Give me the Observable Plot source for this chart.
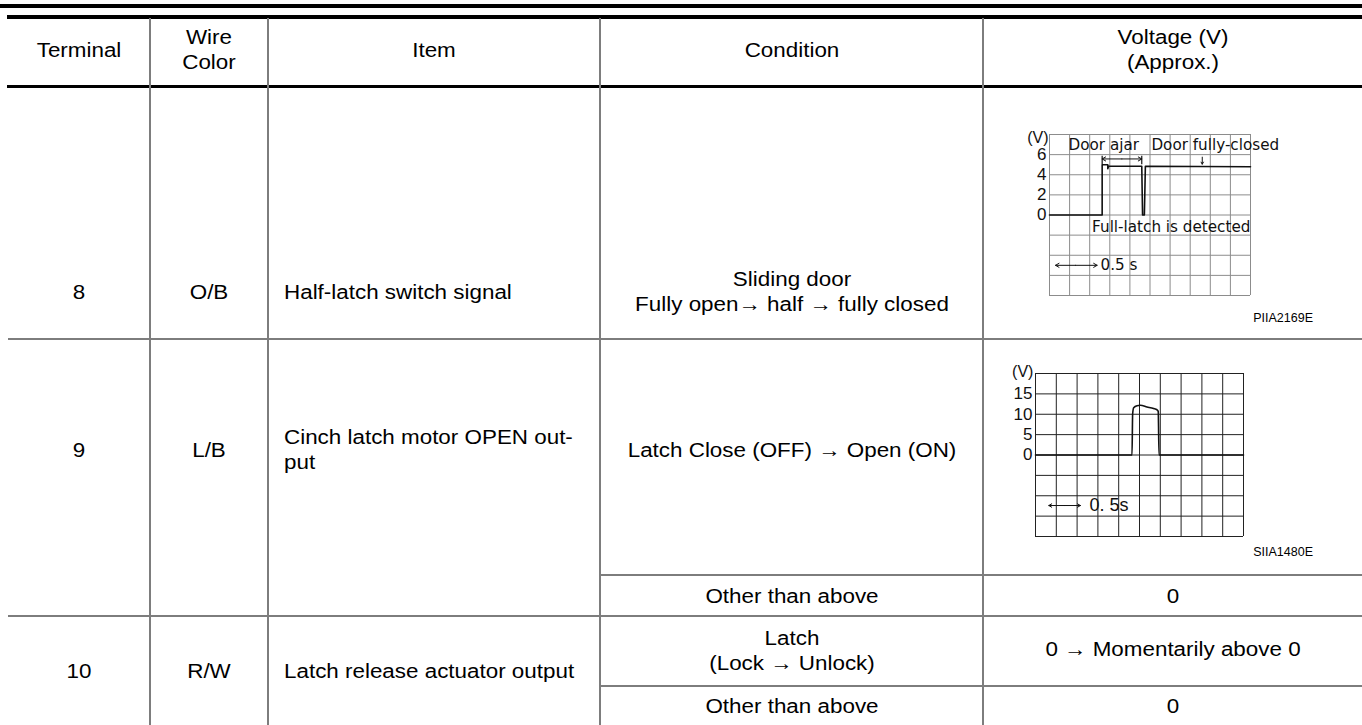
<!DOCTYPE html>
<html>
<head>
<meta charset="utf-8">
<script src="https://cdn.jsdelivr.net/npm/d3@7"></script>
<script src="https://cdn.jsdelivr.net/npm/@observablehq/plot@0.6"></script>
<style>
  html, body { margin: 0; padding: 0; background: #fff; }
  #page { position: relative; width: 1362px; height: 725px; overflow: hidden;
          font-family: "Liberation Sans", Arial, Helvetica, sans-serif; color: #000; }
  .rule { position: absolute; }
  .txt { position: absolute; font-size: 20px; line-height: 25px; white-space: pre; }
  .code { position: absolute; font-size: 12.5px; white-space: nowrap; }
  .fig { position: absolute; }
  .fig svg { overflow: visible; }
</style>
</head>
<body>
<div id="page"></div>
<script>
// ---------------- table content ----------------
const headerLabels = ["Terminal", "Wire\nColor", "Item", "Condition", "Voltage (V)\n(Approx.)"];
const terminals = ["8", "9", "10"];
const wireColors = ["O/B", "L/B", "R/W"];
const items = ["Half-latch switch signal", "Cinch latch motor OPEN out-\nput", "Latch release actuator output"];
const conditions = ["Sliding door\nFully open\u2192 half \u2192 fully closed",
                    "Latch Close (OFF) \u2192 Open (ON)", "Other than above",
                    "Latch\n(Lock \u2192 Unlock)", "Other than above"];
const voltageTexts = ["", "", "0", "0 \u2192 Momentarily above 0", "0"];
const figureCodes = ["PIIA2169E", "SIIA1480E"];

// ---------------- waveform 1 : half-latch switch (x in grid divisions, y in volts) ----------------
const halfLatchDiv  = [0, 2.62, 2.62, 2.9, 2.9, 2.94, 4.59, 4.63, 4.72, 4.77, 10];
const halfLatchVolt = [0, 0,    5.0,  5.0, 4.6, 4.85, 4.85, 0,    0,    4.85, 4.8];
const g1TickLabels = [0, 2, 4, 6];
const g1Labels  = ["Door ajar", "Door fully-closed", "Full-latch is detected", "0.5 s"];
const g1LabelX  = [0.95, 5.07, 2.12, 2.54];
const g1LabelY  = [6.9, 6.9, -1.2, -5.0];

// ---------------- waveform 2 : cinch latch motor OPEN ----------------
const cinchDiv  = [0, 4.64, 4.67, 4.72, 4.88, 5.04, 5.36, 5.68, 5.84, 5.9, 5.94, 10];
const cinchVolt = [0, 0,    10.0, 11.6, 12.1, 12.2, 11.8, 11.4, 11.1, 10.7, 0,   0];
const g2TickLabels = [0, 5, 10, 15];
const g2Labels = ["0. 5s"];
const g2LabelX = [2.6];
const g2LabelY = [-12.4];

// ---------------- layout ----------------
const page = document.getElementById("page");
const L = {
  cols: [7, 150, 268, 600, 983, 1362],
  lineGray: "#7d7d7d",
  stretch: 1.12
};
function rule(x, y, w, h, c) {
  const d = document.createElement("div");
  d.className = "rule";
  Object.assign(d.style, {left: x + "px", top: y + "px", width: w + "px", height: h + "px", background: c});
  page.appendChild(d);
}
function text(str, x, y, anchor) {
  const d = document.createElement("div");
  d.className = "txt";
  d.textContent = str;
  d.style.left = x + "px";
  d.style.top = y + "px";
  d.style.transformOrigin = "0 0";
  if (anchor === "start") {
    d.style.textAlign = "left";
    d.style.transform = `scaleX(${L.stretch}) translate(0,-50%)`;
  } else {
    d.style.textAlign = "center";
    d.style.transform = `scaleX(${L.stretch}) translate(-50%,-50%)`;
  }
  page.appendChild(d);
}
// horizontal rules
rule(0, 4, 1362, 3.5, "#000");
rule(7, 15, 1355, 3.5, "#000");
rule(7, 85, 1355, 2.6, "#000");
rule(8, 338, 1354, 2, L.lineGray);
rule(600, 574, 762, 2, L.lineGray);
rule(8, 615, 1354, 2, L.lineGray);
rule(600, 685, 762, 2, L.lineGray);
// vertical rules
for (const x of L.cols.slice(1, 5)) rule(x - 1, 18, 2, 707, L.lineGray);

const cx = L.cols.slice(0, 5).map((c, i) => (c + L.cols[i + 1]) / 2);
// header
headerLabels.forEach((h, i) => text(h, cx[i], 50, "middle"));
// body
const rowY = [292, 450, 671];
terminals.forEach((t, i) => text(t, cx[0], rowY[i], "middle"));
wireColors.forEach((t, i) => text(t, cx[1], rowY[i], "middle"));
items.forEach((t, i) => text(t, 284, rowY[i], "start"));
const condY = [292, 450, 595.5, 651, 705.5];
conditions.forEach((t, i) => text(t, cx[3], condY[i], "middle"));
const voltY = [0, 0, 595.5, 649, 705.5];
voltageTexts.forEach((t, i) => { if (t) text(t, cx[4], voltY[i], "middle"); });

// figure codes
function code(str, right, y) {
  const d = document.createElement("div");
  d.className = "code";
  d.textContent = str;
  d.style.right = (1362 - right) + "px";
  d.style.top = y + "px";
  d.style.transform = "translate(0,-50%)";
  page.appendChild(d);
}
code(figureCodes[0], 1313, 318);
code(figureCodes[1], 1313, 552);

// ---------------- waveform plots ----------------
const idx1 = d3.range(halfLatchDiv.length);
const idx2 = d3.range(cinchDiv.length);
const fontG = "Liberation Sans, Arial, sans-serif";
const fontNote = "DejaVu Sans, Liberation Sans, sans-serif";

const plot1 = Plot.plot({
  width: 320, height: 230,
  marginLeft: 49, marginRight: 70, marginTop: 24, marginBottom: 45,
  x: {domain: [0, 10], axis: null},
  y: {domain: [-8, 8], axis: null},
  style: {fontFamily: fontG, fontSize: "16px", background: "transparent", color: "#111"},
  marks: [
    Plot.gridX(d3.range(0, 11), {stroke: "#8c8c8c", strokeOpacity: 1, strokeWidth: 1}),
    Plot.gridY(d3.range(-8, 9, 2), {stroke: "#8c8c8c", strokeOpacity: 1, strokeWidth: 1}),
    Plot.axisY(g1TickLabels, {tickSize: 0, tickPadding: 3, fontSize: 17}),
    Plot.text(["(V)"], {x: () => -0.05, y: () => 7.7, textAnchor: "end", fontSize: 16}),
    Plot.line(idx1, {x: i => halfLatchDiv[i], y: i => halfLatchVolt[i], stroke: "#111", strokeWidth: 1.6}),
    // dimension lines for "Door ajar"
    Plot.ruleX([halfLatchDiv[1], halfLatchDiv[6]], {y1: 5, y2: 5.85, stroke: "#111", strokeWidth: 1.2}),
    Plot.arrow([0], {x1: () => 3.6, x2: () => halfLatchDiv[1], y1: () => 5.57, y2: () => 5.57, headLength: 6, stroke: "#111", strokeWidth: 1}),
    Plot.arrow([0], {x1: () => 3.6, x2: () => halfLatchDiv[6], y1: () => 5.57, y2: () => 5.57, headLength: 6, stroke: "#111", strokeWidth: 1}),
    Plot.arrow([0], {x1: () => 7.6, x2: () => 7.6, y1: () => 5.75, y2: () => 5.05, headLength: 5, stroke: "#111", strokeWidth: 1}),
    // 0.5 s scale arrow
    Plot.arrow([0], {x1: () => 1.3, x2: () => 0.3, y1: () => -5, y2: () => -5, headLength: 6, stroke: "#111", strokeWidth: 1}),
    Plot.arrow([0], {x1: () => 1.3, x2: () => 2.37, y1: () => -5, y2: () => -5, headLength: 6, stroke: "#111", strokeWidth: 1}),
    Plot.text(g1Labels, {x: (d, i) => g1LabelX[i], y: (d, i) => g1LabelY[i], textAnchor: "start", fontSize: 15.2, fontFamily: fontNote, fill: "#111"})
  ]
});

const plot2 = Plot.plot({
  width: 320, height: 215,
  marginLeft: 35, marginRight: 77, marginTop: 23, marginBottom: 29,
  x: {domain: [0, 10], axis: null},
  y: {domain: [-20, 20], axis: null},
  style: {fontFamily: "Liberation Sans Narrow, Liberation Sans, Arial, sans-serif", fontSize: "16px", background: "transparent", color: "#111"},
  marks: [
    Plot.gridX(d3.range(0, 11), {stroke: "#222", strokeOpacity: 1, strokeWidth: 1}),
    Plot.gridY(d3.range(-20, 21, 5), {stroke: "#222", strokeOpacity: 1, strokeWidth: 1}),
    Plot.axisY(g2TickLabels, {tickSize: 0, tickPadding: 3, fontSize: 17}),
    Plot.text(["(V)"], {x: () => -0.1, y: () => 20.3, textAnchor: "end", fontSize: 16}),
    Plot.line(idx2, {x: i => cinchDiv[i], y: i => cinchVolt[i], stroke: "#111", strokeWidth: 1.6, curve: "monotone-x"}),
    Plot.arrow([0], {x1: () => 1.4, x2: () => 0.64, y1: () => -12.4, y2: () => -12.4, headLength: 5, stroke: "#111", strokeWidth: 1}),
    Plot.arrow([0], {x1: () => 1.4, x2: () => 2.16, y1: () => -12.4, y2: () => -12.4, headLength: 5, stroke: "#111", strokeWidth: 1}),
    Plot.text(g2Labels, {x: (d, i) => g2LabelX[i], y: (d, i) => g2LabelY[i], textAnchor: "start", fontSize: 18, fill: "#111"})
  ]
});

function place(node, left, top) {
  const w = document.createElement("div");
  w.className = "fig";
  w.style.left = left + "px";
  w.style.top = top + "px";
  w.appendChild(node);
  page.appendChild(w);
}
place(plot1, 1000, 110);
place(plot2, 1000, 350);
</script>
</body>
</html>
